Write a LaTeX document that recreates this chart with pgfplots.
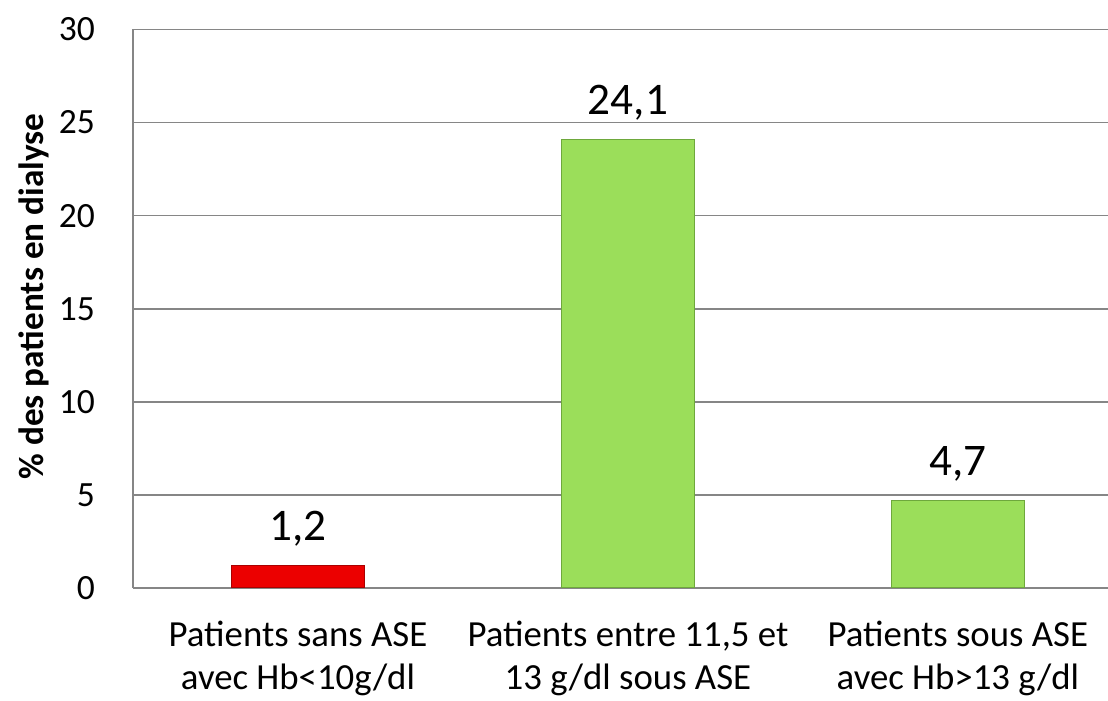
\documentclass[border=0pt]{standalone}
\usepackage{pgfplots}
\pgfplotsset{compat=1.18}
\usepackage{fontspec}
\setmainfont{Carlito}
\definecolor{bargreen}{RGB}{155,222,90}
\definecolor{bargreenedge}{RGB}{110,168,60}
\definecolor{barred}{RGB}{236,0,0}
\definecolor{barrededge}{RGB}{170,0,0}
\definecolor{gridgray}{RGB}{134,134,134}
\begin{document}
\begin{tikzpicture}
\useasboundingbox (-66.5pt,-56.5pt) rectangle (487.5pt,294pt);
\begin{axis}[
  at={(0,0)}, anchor=south west,
  scale only axis, width=487.5pt, height=279.25pt,
  xmin=-0.5, xmax=2.455,
  ymin=0, ymax=30,
  ytick={0,5,...,30},
  xtick={0,1,2},
  xticklabels={{Patients sans ASE\\avec Hb<10g/dl},{Patients entre 11,5 et\\13 g/dl sous ASE},{Patients sous ASE\\avec Hb>13 g/dl}},
  axis x line*=bottom, axis y line*=left,
  axis line style={gridgray, line width=0.8pt},
  ymajorgrids, grid style={gridgray, line width=0.8pt},
  major tick length=0pt,
  /pgf/number format/assume math mode=true,
  yticklabel style={font=\fontsize{17.75}{20}\selectfont, xshift=-15.5pt},
  xticklabel style={font=\fontsize{18.4}{21.5}\selectfont, align=center, yshift=-13pt},
  ylabel={\bfseries \% des patients en dialyse},
  ylabel style={font=\fontsize{17.6}{20}\selectfont, at={(axis description cs:-0.102,0.522)}, anchor=center},
  ybar, bar width=66.5pt, bar shift=0pt,
  nodes near coords,
  nodes near coords style={font=\fontsize{22.6}{25}\selectfont, anchor=base, yshift=12.5pt,
    /pgf/number format/.cd, fixed, fixed zerofill, precision=1, use comma, assume math mode=true},
]
\addplot[fill=barred, draw=barrededge, line width=0.6pt, bar shift=0pt] coordinates {(0,1.2)};
\addplot[fill=bargreen, draw=bargreenedge, line width=0.6pt, bar shift=0pt] coordinates {(1,24.1) (2,4.7)};
\end{axis}
\end{tikzpicture}
\end{document}
